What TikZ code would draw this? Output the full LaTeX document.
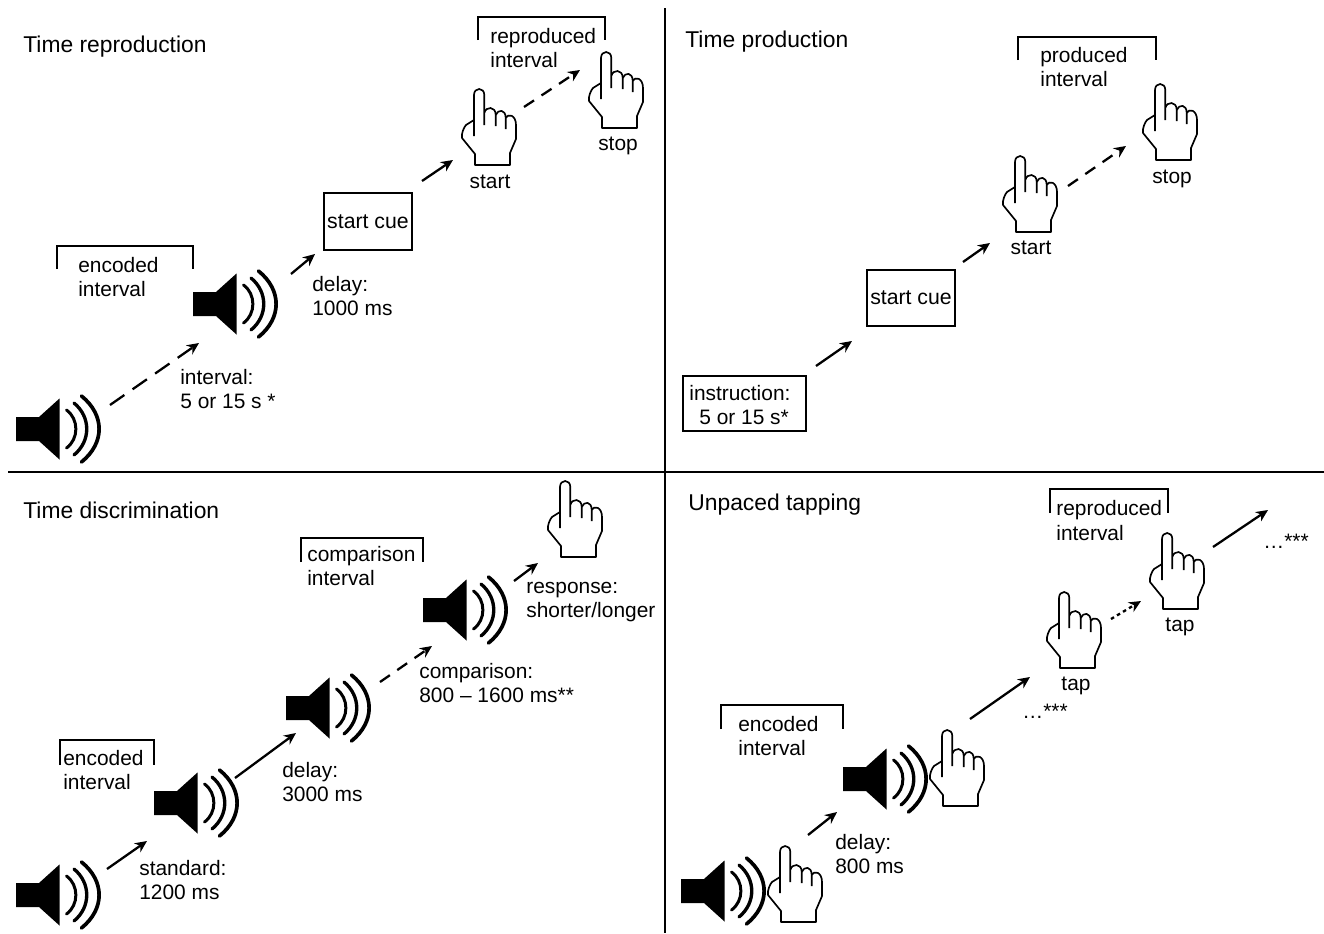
\documentclass[tikz,border=0pt]{standalone}
\usepackage{fontspec}
\setmainfont{Liberation Sans}
\usepackage{tikz}
\usetikzlibrary{positioning,arrows.meta}
\tikzset{
  title/.style={anchor=west, inner sep=0pt, font=\fontsize{13}{15}\selectfont},
  label/.style={anchor=west, align=left, inner sep=0pt, font=\fontsize{11.9}{13.9}\selectfont},
  clabel/.style={inner sep=0pt, font=\fontsize{11.9}{13.9}\selectfont},
  cue/.style={draw, line width=1.6pt, inner sep=0pt, align=center, font=\fontsize{12.1}{13.9}\selectfont},
  wire/.style={-{Stealth[length=2.4mm,width=2.2mm]}, line width=1.3pt},
  dashwire/.style={wire, dash pattern=on 3.5mm off 2mm},
  shortdash/.style={wire, dash pattern=on 2.4mm off 1.8mm},
  dotwire/.style={wire, dash pattern=on 0.7mm off 0.7mm},
  bracket/.style={line width=1.1pt},
  divider/.style={line width=1.5pt},
  speaker/.pic={
    \fill (0,-12) -- (23,-12) -- (43.5,-30.5) -- (43.5,30.5) -- (23,12) -- (0,12) -- cycle;
    \draw[line width=1.7pt, line cap=round] (50.5,-19) .. controls (63,-10) and (63,10) .. (50.5,19);
    \draw[line width=1.9pt, line cap=round] (58,-26) .. controls (75,-12) and (75,12) .. (58,26);
    \draw[line width=2.1pt, line cap=round] (65.5,-33) .. controls (89,-14) and (89,14) .. (65.5,33);
  },
  hand/.pic={
    \draw[line width=0.95pt, line join=round] (0,47) -- (0,6) .. controls (0,-2) and (10.3,-2) .. (10.3,6) -- (10.3,36)
      (10.3,24) .. controls (12,17) and (21.7,17) .. (21.7,26) -- (21.7,37)
      (21.7,26) .. controls (24,20) and (31.7,20) .. (31.7,29) -- (31.7,40)
      (31.7,29) .. controls (34,24) and (42,26) .. (42,36) -- (42,50) -- (36,64) -- (36,76) -- (1,76) -- (1,65) -- (-12,49)
      .. controls (-13,45) and (-10,38) .. (-8,36) -- (0,31);
  }
}

\begin{document}
\begin{tikzpicture}[x=0.02cm, y=-0.02cm]
  \useasboundingbox (0,0) rectangle (1324,933);

  % panel dividers
  \coordinate (vtop) at (665,8);
  \coordinate (vbot) at (665,933);
  \coordinate (hleft) at (8,472);
  \coordinate (hright) at (1324,472);
  \draw[divider] (vtop) -- (vbot);
  \draw[divider] (hleft) -- (hright);

  % time reproduction
  \node[title] (trtitle) at (23,47) {Time reproduction};
  \pic at (16,429) {speaker};
  \pic at (193,304) {speaker};
  \pic at (474,89) {hand};
  \pic at (601,52) {hand};
  \node[cue, minimum width=1.76cm, minimum height=1.14cm] (trcue) at (368,221.5) {start cue};
  \draw[bracket] (57,269) -- (57,246) -- (193,246) -- (193,269);
  \draw[bracket] (478,40) -- (478,17) -- (605,17) -- (605,40);
  \node[label] (trenc) at (78,277) {encoded\\interval};
  \node[label] (trint) at (180,389) {interval:\\5 or 15 s *};
  \node[label] (trdelay) at (312,296) {delay:\\1000 ms};
  \node[label] (trrep) at (490,48) {reproduced\\interval};
  \node[clabel] (trstart) at (490,182) {start};
  \node[clabel] (trstop) at (618,146) {stop};
  \coordinate (ta) at (110,405);
  \coordinate (tb) at (199,343);
  \coordinate (tc) at (291,274);
  \coordinate (td) at (315,254);
  \coordinate (te) at (422,181);
  \coordinate (tf) at (453,160);
  \coordinate (tg) at (524,107);
  \coordinate (th) at (580,70);
  \draw[dashwire] (ta) -- (tb);
  \draw[wire] (tc) -- (td);
  \draw[wire] (te) -- (tf);
  \draw[shortdash] (tg) -- (th);

  % time production
  \node[title] (tptitle) at (685,42) {Time production};
  \pic at (1015,156) {hand};
  \pic at (1155,84) {hand};
  \node[cue, minimum width=2.46cm, minimum height=1.1cm] (tpinstr) at (744.5,403.5) {};
  \node[label] (tpinstrtext) at (689,405) {instruction:\\\hspace*{0.2cm}5 or 15 s*};
  \node[cue, minimum width=1.76cm, minimum height=1.12cm] (tpcue) at (911,298) {start cue};
  \draw[bracket] (1018,60) -- (1018,37) -- (1156,37) -- (1156,60);
  \node[label] (tpprod) at (1040,67) {produced\\interval};
  \node[clabel] (tpstart) at (1031,248) {start};
  \node[clabel] (tpstop) at (1172,179) {stop};
  \coordinate (pa) at (816,366);
  \coordinate (pb) at (852,341);
  \coordinate (pc) at (963,262);
  \coordinate (pd) at (990,243);
  \coordinate (pe) at (1068,186);
  \coordinate (pf) at (1126,146);
  \draw[wire] (pa) -- (pb);
  \draw[wire] (pc) -- (pd);
  \draw[shortdash] (pe) -- (pf);

  % time discrimination
  \node[title] (tdtitle) at (23,510) {Time discrimination};
  \pic at (16,895) {speaker};
  \pic at (154,803) {speaker};
  \pic at (286,708) {speaker};
  \pic at (423,610) {speaker};
  \pic at (560,481) {hand};
  \draw[bracket] (60,765) -- (60,740) -- (154,740) -- (154,765);
  \draw[bracket] (301,562) -- (301,538) -- (423,538) -- (423,562);
  \node[label] (tdenc) at (63,770) {encoded\\interval};
  \node[label] (tdstd) at (139,880) {standard:\\1200 ms};
  \node[label] (tddelay) at (282,782) {delay:\\3000 ms};
  \node[label] (tdcomp) at (307,566) {comparison\\interval};
  \node[label] (tdrange) at (419,683) {comparison:\\800 -- 1600 ms**};
  \node[label] (tdresp) at (526,602) {response:\\shorter/longer};
  \coordinate (da) at (107,869);
  \coordinate (db) at (147,841);
  \coordinate (dc) at (235,778);
  \coordinate (dd) at (296,733);
  \coordinate (de) at (380,682);
  \coordinate (df) at (432,646);
  \coordinate (dg) at (514,581);
  \coordinate (dh) at (538,563);
  \draw[wire] (da) -- (db);
  \draw[wire] (dc) -- (dd);
  \draw[shortdash] (de) -- (df);
  \draw[wire] (dg) -- (dh);

  % unpaced tapping
  \node[title] (uttitle) at (688,505) {Unpaced tapping};
  \pic at (681,891) {speaker};
  \pic at (843,779) {speaker};
  \pic at (780,846) {hand};
  \pic at (942,730) {hand};
  \pic at (1059,592) {hand};
  \pic at (1162,533) {hand};
  \draw[bracket] (721,729) -- (721,705) -- (843,705) -- (843,729);
  \draw[bracket] (1050,513) -- (1050,489) -- (1168,489) -- (1168,513);
  \node[label] (utenc) at (738,736) {encoded\\interval};
  \node[label] (utdelay) at (835,854) {delay:\\800 ms};
  \node[label] (utrep) at (1056,520.5) {reproduced\\interval};
  \node[clabel] (uttapa) at (1076,686) {tap};
  \node[clabel] (uttapb) at (1180,627) {tap};
  \node[clabel, anchor=base west] (utdotsa) at (1022,718) {…***};
  \node[clabel, anchor=base west] (utdotsb) at (1263,548) {…***};
  \coordinate (ua) at (808,835);
  \coordinate (ub) at (837,812);
  \coordinate (uc) at (970,719);
  \coordinate (ud) at (1030,677);
  \coordinate (ue) at (1111,619);
  \coordinate (uf) at (1141,601);
  \coordinate (ug) at (1213,547);
  \coordinate (uh) at (1268,510);
  \draw[wire] (ua) -- (ub);
  \draw[wire] (uc) -- (ud);
  \draw[dotwire] (ue) -- (uf);
  \draw[wire] (ug) -- (uh);
\end{tikzpicture}
\end{document}
